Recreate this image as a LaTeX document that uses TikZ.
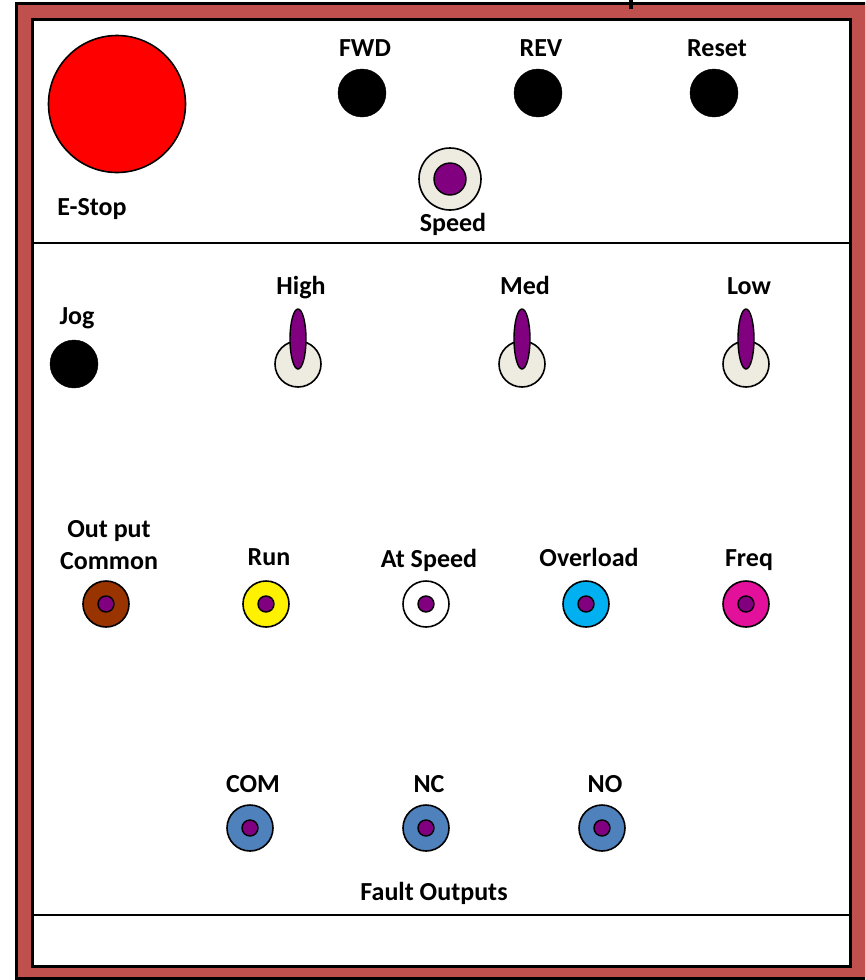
\documentclass[tikz,border=0pt]{standalone}
\usepackage{fontspec}
\setmainfont{Carlito}
\usetikzlibrary{shapes.geometric}
\definecolor{framered}{HTML}{C0504D}
\definecolor{knobbeige}{HTML}{EEECE1}
\definecolor{knobpurple}{HTML}{800080}
\definecolor{jackbrown}{HTML}{993300}
\definecolor{jackcyan}{HTML}{00B0F0}
\definecolor{jackmagenta}{HTML}{E2109B}
\definecolor{jackblue}{HTML}{4F81BD}
\tikzset{
  lbl/.style={font=\fontsize{26}{30}\selectfont\bfseries, inner sep=0pt, align=center},
  btn/.style={circle, fill=black, draw=black, minimum size=48pt, inner sep=0pt},
  jack/.style={circle, draw=black, line width=1.6pt, minimum size=46pt, inner sep=0pt},
  pin/.style={circle, fill=knobpurple, draw=black, line width=1.4pt, minimum size=16pt, inner sep=0pt},
  togbase/.style={circle, fill=knobbeige, draw=black, line width=1.6pt, minimum size=46pt, inner sep=0pt},
  toglever/.style={ellipse, fill=knobpurple, draw=black, line width=1.4pt, minimum width=16pt, minimum height=60pt, inner sep=0pt},
}
\begin{document}
\begin{tikzpicture}[x=1pt, y=-1pt]
\useasboundingbox (0,0) rectangle (865,980);
\clip (0,0) rectangle (865,980);
% frame
\fill[black] (15,2) rectangle (880,980);
\fill[framered] (18,5) rectangle (880,977);
\fill[black] (31,18) rectangle (852,968);
\fill[white] (34,21) rectangle (849,965);
\draw[line width=4pt] (631,0) -- (631,9);
% dividers
\coordinate (d1l) at (33,243); \coordinate (d1r) at (850,243);
\coordinate (d2l) at (33,915); \coordinate (d2r) at (850,915);
\draw[line width=2pt] (d1l) -- (d1r);
\draw[line width=2pt] (d2l) -- (d2r);
% E-stop
\node[circle, fill=red, draw=black, line width=1.6pt, minimum size=137pt, inner sep=0pt] (estop) at (117,104) {};
\node[lbl] (estopl) at (92,209) {E-Stop};
% buttons
\node[lbl] (fwdl) at (365,48) {FWD};
\node[btn] (fwd) at (362,93) {};
\node[lbl] (revl) at (541,48) {REV};
\node[btn] (rev) at (538,93) {};
\node[lbl] (resetl) at (717,48) {Reset};
\node[btn] (reset) at (714,93) {};
% speed knob
\node[circle, fill=knobbeige, draw=black, line width=1.6pt, minimum size=62pt, inner sep=0pt] (speed) at (450,179) {};
\node[circle, fill=knobpurple, draw=black, line width=1.4pt, minimum size=32pt, inner sep=0pt] (speedc) at (450,179) {};
\node[lbl] (speedl) at (453,224) {Speed};
% jog
\node[lbl] (jogl) at (77,318) {Jog};
\node[btn] (jog) at (74,364) {};
% toggles
\foreach \n/\t/\x in {high/High/298, med/Med/522, low/Low/746}{
  \node[lbl, anchor=base] (\n l) at (\x+3,294) {\t};
  \node[togbase] (\n b) at (\x,364) {};
  \node[toglever] (\n s) at (\x,339) {};
}
% jacks row
\node[lbl] (outl) at (109,545) {Out put\\[2pt]Common};
\node[jack, fill=jackbrown] (out) at (106,604) {};
\node[pin] (outp) at (106,604) {};
\node[lbl] (runl) at (269,557) {Run};
\node[jack, fill=yellow] (run) at (266,604) {};
\node[pin] (runp) at (266,604) {};
\node[lbl] (atsl) at (429,560) {At Speed};
\node[jack, fill=white] (ats) at (426,604) {};
\node[pin] (atsp) at (426,604) {};
\node[lbl] (ovl) at (589,557) {Overload};
\node[jack, fill=jackcyan] (ov) at (586,604) {};
\node[pin] (ovp) at (586,604) {};
\node[lbl] (freql) at (749,560) {Freq};
\node[jack, fill=jackmagenta] (freq) at (746,604) {};
\node[pin] (freqp) at (746,604) {};
% fault outputs
\node[lbl] (coml) at (253,784) {COM};
\node[jack, fill=jackblue] (com) at (250,828) {};
\node[pin] (comp) at (250,828) {};
\node[lbl] (ncl) at (429,784) {NC};
\node[jack, fill=jackblue] (nc) at (426,828) {};
\node[pin] (ncp) at (426,828) {};
\node[lbl] (nol) at (605,784) {NO};
\node[jack, fill=jackblue] (no) at (602,828) {};
\node[pin] (nop) at (602,828) {};
\node[lbl] (faultl) at (434,893) {Fault Outputs};
\end{tikzpicture}
\end{document}
